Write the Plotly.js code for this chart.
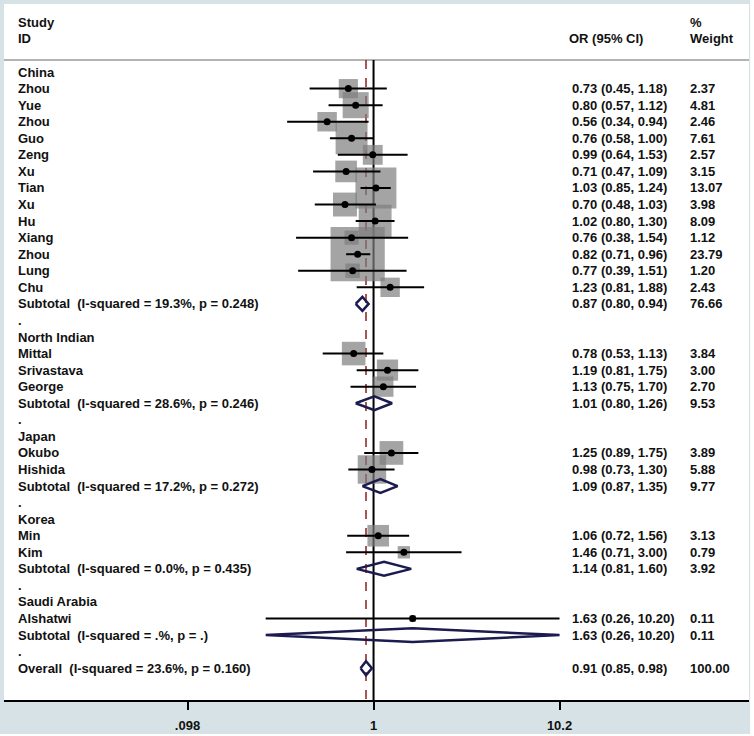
<!DOCTYPE html>
<html><head><meta charset="utf-8">
<script src="https://cdn.plot.ly/plotly-3.0.1.min.js"></script>
<style>html,body{margin:0;padding:0;background:#fff}#chart{width:754px;height:736px}</style>
</head><body><div id="chart"></div>
<script>
// ---- data ----
const labels = [
  'China','Zhou','Yue','Zhou','Guo','Zeng','Xu','Tian','Xu','Hu','Xiang','Zhou','Lung','Chu',
  'Subtotal  (I-squared = 19.3%, p = 0.248)','.',
  'North Indian','Mittal','Srivastava','George',
  'Subtotal  (I-squared = 28.6%, p = 0.246)','.',
  'Japan','Okubo','Hishida',
  'Subtotal  (I-squared = 17.2%, p = 0.272)','.',
  'Korea','Min','Kim',
  'Subtotal  (I-squared = 0.0%, p = 0.435)','.',
  'Saudi Arabia','Alshatwi',
  'Subtotal  (I-squared = .%, p = .)','.',
  'Overall  (I-squared = 23.6%, p = 0.160)'
];
const kinds = [
  'group','study','study','study','study','study','study','study','study','study','study','study','study','study',
  'pooled','gap',
  'group','study','study','study','pooled','gap',
  'group','study','study','pooled','gap',
  'group','study','study','pooled','gap',
  'group','study','pooled','gap',
  'pooled'
];
const est = [
  null,0.73,0.80,0.56,0.76,0.99,0.71,1.03,0.70,1.02,0.76,0.82,0.77,1.23,
  0.87,null,
  null,0.78,1.19,1.13,1.01,null,
  null,1.25,0.98,1.09,null,
  null,1.06,1.46,1.14,null,
  null,1.63,1.63,null,
  0.91
];
const lower = [
  null,0.45,0.57,0.34,0.58,0.64,0.47,0.85,0.48,0.80,0.38,0.71,0.39,0.81,
  0.80,null,
  null,0.53,0.81,0.75,0.80,null,
  null,0.89,0.73,0.87,null,
  null,0.72,0.71,0.81,null,
  null,0.26,0.26,null,
  0.85
];
const upper = [
  null,1.18,1.12,0.94,1.00,1.53,1.09,1.24,1.03,1.30,1.54,0.96,1.51,1.88,
  0.94,null,
  null,1.13,1.75,1.70,1.26,null,
  null,1.75,1.30,1.35,null,
  null,1.56,3.00,1.60,null,
  null,10.20,10.20,null,
  0.98
];
const weights = [
  null,2.37,4.81,2.46,7.61,2.57,3.15,13.07,3.98,8.09,1.12,23.79,1.20,2.43,
  76.66,null,
  null,3.84,3.00,2.70,9.53,null,
  null,3.89,5.88,9.77,null,
  null,3.13,0.79,3.92,null,
  null,0.11,0.11,null,
  100.00
];
const headerLeft = ['Study','ID'];
const headerOR = 'OR (95% CI)';
const headerWeight = ['%','Weight'];
const tickVals = [0.098, 1, 10.2];
const tickText = ['.098','1','10.2'];
const nullValue = 1;

// ---- layout helpers ----
const W = 754, H = 736, ML = 4, MR = 5, MT = 4, MB = 36;
const PW = W - ML - MR;
const PH = H - MT - MB;
const px = p => (p - ML) / PW;           // pixel -> paper x
const font = {family: 'Liberation Sans, Arial, sans-serif', size: 13, color: '#111', weight: 'bold'};
const overallIdx = labels.length - 1;
const overallEst = est[overallIdx];
const headerRow = -0.725;
const yBottom = 37.92;

const traces = [];

// grey weight boxes
const bx = [], by = [], bs = [];
kinds.forEach((k, i) => { if (k === 'study') { bx.push(est[i]); by.push(i); bs.push(10.5 * Math.sqrt(weights[i]) + 3); } });
traces.push({type: 'scatter', mode: 'markers', x: bx, y: by, hoverinfo: 'skip',
  marker: {symbol: 'square', size: bs, color: '#7d7d7d', line: {width: 0}}});

// CI lines
const cx = [], cy = [];
kinds.forEach((k, i) => { if (k === 'study') { cx.push(lower[i], upper[i], null); cy.push(i, i, null); } });
traces.push({type: 'scatter', mode: 'lines', x: cx, y: cy, hoverinfo: 'skip',
  line: {color: '#000', width: 2}});

// point estimates
const ex = [], ey = [];
kinds.forEach((k, i) => { if (k === 'study') { ex.push(est[i]); ey.push(i); } });
traces.push({type: 'scatter', mode: 'markers', x: ex, y: ey, hoverinfo: 'skip',
  marker: {symbol: 'circle', size: 7, color: '#000'}});

// pooled diamonds
const hh = 0.42;
kinds.forEach((k, i) => {
  if (k === 'pooled') {
    traces.push({type: 'scatter', mode: 'lines', hoverinfo: 'skip',
      x: [lower[i], est[i], upper[i], est[i], lower[i]],
      y: [i, i - hh, i, i + hh, i],
      line: {color: '#1b1b4f', width: 2.5}});
  }
});

// ---- annotations ----
const ann = [];
const addText = (xp, y, t) => ann.push({xref: 'paper', yref: 'y', x: px(xp), y: y, text: t,
  showarrow: false, xanchor: 'left', yanchor: 'middle', font: font});
addText(16, -3, headerLeft[0]);
addText(16, -2, headerLeft[1]);
addText(567, -2, headerOR);
addText(688, -3, headerWeight[0]);
addText(688, -2, headerWeight[1]);
labels.forEach((l, i) => {
  addText(16, i, l.replace(/  /g, ' \u00a0'));
  if (est[i] !== null) {
    addText(570, i, est[i].toFixed(2) + ' (' + lower[i].toFixed(2) + ', ' + upper[i].toFixed(2) + ')');
    addText(688, i, weights[i].toFixed(2));
  }
});

const shapes = [
  {type: 'line', xref: 'paper', yref: 'y', x0: 0, x1: 1, y0: headerRow, y1: headerRow,
   line: {color: '#9a9a9a', width: 1.5}, layer: 'below'},
  {type: 'line', xref: 'x', yref: 'y', x0: nullValue, x1: nullValue, y0: headerRow, y1: yBottom,
   line: {color: '#000', width: 2}, layer: 'below'},
  {type: 'line', xref: 'x', yref: 'y', x0: overallEst, x1: overallEst, y0: headerRow, y1: yBottom,
   line: {color: '#8b1f1f', width: 1.5, dash: 'dash'}, layer: 'below'},
  // white outer strip at right
  {type: 'rect', xref: 'paper', yref: 'paper', x0: 1.0015, x1: 1.02, y0: -0.2, y1: 1.1,
   fillcolor: '#fff', line: {width: 0}},
  // white outer strip at bottom
  {type: 'rect', xref: 'paper', yref: 'paper', x0: -0.02, x1: 1.02,
   y0: -(736 - (H - MB)) / PH - 0.01, y1: -(734 - (H - MB)) / PH,
   fillcolor: '#fff', line: {width: 0}}
];

const layout = {
  width: W, height: H,
  margin: {l: ML, r: MR, t: MT, b: MB, pad: 0},
  paper_bgcolor: '#d6e2e5',
  plot_bgcolor: '#ffffff',
  showlegend: false,
  xaxis: {type: 'log', range: [-2.004, 2.036], fixedrange: true,
    tickmode: 'array', tickvals: tickVals, ticktext: tickText,
    ticks: 'outside', ticklen: 8, tickwidth: 2, tickcolor: '#000',
    showline: true, linecolor: '#000', linewidth: 2, showgrid: false, zeroline: false,
    ticklabelstandoff: 4,
    tickfont: {family: 'Liberation Sans, Arial, sans-serif', size: 13, color: '#111', weight: 'bold'}},
  yaxis: {range: [yBottom, -4.11], showticklabels: false, showgrid: false, zeroline: false,
    showline: false, ticks: '', fixedrange: true},
  annotations: ann,
  shapes: shapes
};

Plotly.newPlot('chart', traces, layout, {staticPlot: true, displayModeBar: false});
</script></body></html>
